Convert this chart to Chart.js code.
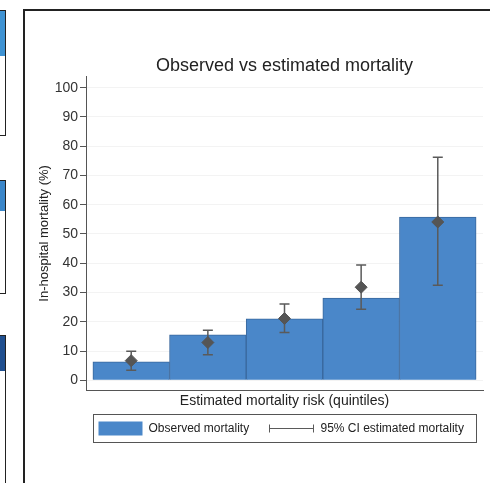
<!DOCTYPE html>
<html lang="en">
  <head>
    <meta charset="UTF-8" />
    <title>Observed vs estimated mortality</title>
    <script src="https://cdn.jsdelivr.net/npm/chart.js@4/dist/chart.umd.min.js"></script>
  </head>
  <style>
    * {
      margin: 0;
      padding: 0;
      box-sizing: border-box;
    }
    body {
      width: 490px;
      height: 483px;
      background: #fff;
      position: relative;
      overflow: hidden;
      font-family: "Liberation Sans", Arial, sans-serif;
    }
    .frame {
      position: absolute;
      left: 23px;
      top: 9px;
      width: 600px;
      height: 600px;
      border: 2px solid #222;
    }
    .side {
      position: absolute;
      left: -1px;
      width: 7px;
      border: 1px solid #222;
      background: #fff;
    }
    .side .head {
      width: 100%;
    }
    .wrap {
      position: absolute;
      left: 26px;
      top: 12px;
      width: 464px;
      height: 471px;
    }
  </style>
  <body>
    <!-- bits of the neighbouring panels on the left edge -->
    <div class="side" style="top: 10px; height: 126px">
      <div class="head" style="height: 45px; background: #3f93d3"></div>
    </div>
    <div class="side" style="top: 180px; height: 114px">
      <div class="head" style="height: 30px; background: #3a86c9"></div>
    </div>
    <div class="side" style="top: 335px; height: 160px">
      <div class="head" style="height: 35px; background: #1f4f8f"></div>
    </div>
    <div class="frame"></div>
    <div class="wrap">
      <canvas id="chart" width="464" height="471"></canvas>
    </div>
    <script>
      const quintiles = [1, 2, 3, 4, 5];
      const observed = [6.3, 15.5, 21, 28.1, 55.8];
      const estimated = [6.7, 12.9, 21.1, 31.8, 54.1];
      const ciLow = [3.4, 8.7, 16.3, 24.3, 32.5];
      const ciHigh = [9.9, 17.1, 26.1, 39.4, 76.2];
      const yTicks = [0, 10, 20, 30, 40, 50, 60, 70, 80, 90, 100];

      const font = "'Liberation Sans', Arial, sans-serif";
      const barBlue = "#4a87c9";
      const ciGray = "#5a5a5a";

      // whiskers go under the diamonds, over the bars
      const ciBars = {
        id: "ciBars",
        beforeDatasetDraw(chart, args) {
          if (args.index !== 1) return;
          const ctx = chart.ctx;
          const x = chart.scales.x;
          const y = chart.scales.y;
          ctx.save();
          ctx.strokeStyle = ciGray;
          ctx.lineWidth = 1.5;
          quintiles.forEach((q, i) => {
            const px = x.getPixelForValue(q);
            const lo = y.getPixelForValue(ciLow[i]);
            const hi = y.getPixelForValue(ciHigh[i]);
            ctx.beginPath();
            ctx.moveTo(px, lo);
            ctx.lineTo(px, hi);
            ctx.moveTo(px - 5, lo);
            ctx.lineTo(px + 5, lo);
            ctx.moveTo(px - 5, hi);
            ctx.lineTo(px + 5, hi);
            ctx.stroke();
          });
          ctx.restore();
        },
      };

      // stata style legend box under the axis title
      const boxLegend = {
        id: "boxLegend",
        afterDraw(chart) {
          const ctx = chart.ctx;
          const x = chart.scales.x;
          const left = Math.round(x.getPixelForValue(0.5)) + 0.5;
          const right = Math.round(x.getPixelForValue(5.5)) + 0.5;
          const top = Math.round(chart.chartArea.bottom) + 24.5;
          const h = 28;
          const mid = top + h / 2;
          ctx.save();
          ctx.strokeStyle = "#555";
          ctx.lineWidth = 1;
          ctx.strokeRect(left, top, right - left, h);
          ctx.fillStyle = barBlue;
          ctx.fillRect(left + 5, top + 7, 44, 14);
          ctx.fillStyle = "#222";
          ctx.font = "12px " + font;
          ctx.textBaseline = "middle";
          ctx.fillText("Observed mortality", left + 55, mid);
          ctx.strokeStyle = ciGray;
          ctx.beginPath();
          ctx.moveTo(left + 176, mid);
          ctx.lineTo(left + 220, mid);
          ctx.moveTo(left + 176, mid - 4);
          ctx.lineTo(left + 176, mid + 4);
          ctx.moveTo(left + 220, mid - 4);
          ctx.lineTo(left + 220, mid + 4);
          ctx.stroke();
          ctx.fillText("95% CI estimated mortality", left + 227, mid);
          ctx.restore();
        },
      };

      new Chart(document.getElementById("chart"), {
        type: "bar",
        plugins: [ciBars, boxLegend],
        data: {
          datasets: [
            {
              label: "Observed mortality",
              data: quintiles.map((q, i) => ({ x: q, y: observed[i] })),
              backgroundColor: barBlue,
              borderColor: "#39679c",
              borderWidth: 1,
              barPercentage: 1,
              categoryPercentage: 1,
              order: 2,
            },
            {
              type: "scatter",
              label: "95% CI estimated mortality",
              data: quintiles.map((q, i) => ({ x: q, y: estimated[i] })),
              pointStyle: "rectRot",
              pointRadius: 6,
              backgroundColor: "#555",
              borderColor: "#555",
              borderWidth: 1,
              order: 1,
            },
          ],
        },
        options: {
          responsive: false,
          animation: false,
          layout: { padding: { left: 0, right: 4, top: 0, bottom: 73 } },
          plugins: {
            legend: { display: false },
            tooltip: { enabled: false },
            title: {
              display: true,
              fullSize: false,
              text: "Observed vs estimated mortality",
              color: "#222",
              font: { family: font, size: 18, weight: "normal" },
              padding: { top: 43, bottom: 0 },
            },
          },
          scales: {
            x: {
              type: "linear",
              min: 0.41,
              max: 5.59,
              afterBuildTicks: (s) => {
                s.ticks = [];
              },
              ticks: { display: false },
              grid: { display: false, drawTicks: false },
              border: { display: true, color: "#555", width: 1 },
              title: {
                display: true,
                text: "Estimated mortality risk (quintiles)",
                color: "#222",
                font: { family: font, size: 14 },
                padding: { top: 3, bottom: 0 },
              },
            },
            y: {
              min: -3.4,
              max: 103.8,
              afterBuildTicks: (s) => {
                s.ticks = yTicks.map((v) => ({ value: v }));
              },
              afterFit: (s) => {
                s.width = 60;
              },
              ticks: {
                color: "#333",
                padding: 2,
                font: { family: font, size: 14 },
              },
              grid: {
                color: "#f3f3f3",
                tickColor: "#555",
                tickLength: 6,
              },
              border: { color: "#555", width: 1 },
              title: {
                display: true,
                text: "In-hospital mortality (%)",
                color: "#222",
                font: { family: font, size: 13 },
                padding: { top: 11, bottom: 0 },
              },
            },
          },
        },
      });
    </script>
  </body>
</html>
